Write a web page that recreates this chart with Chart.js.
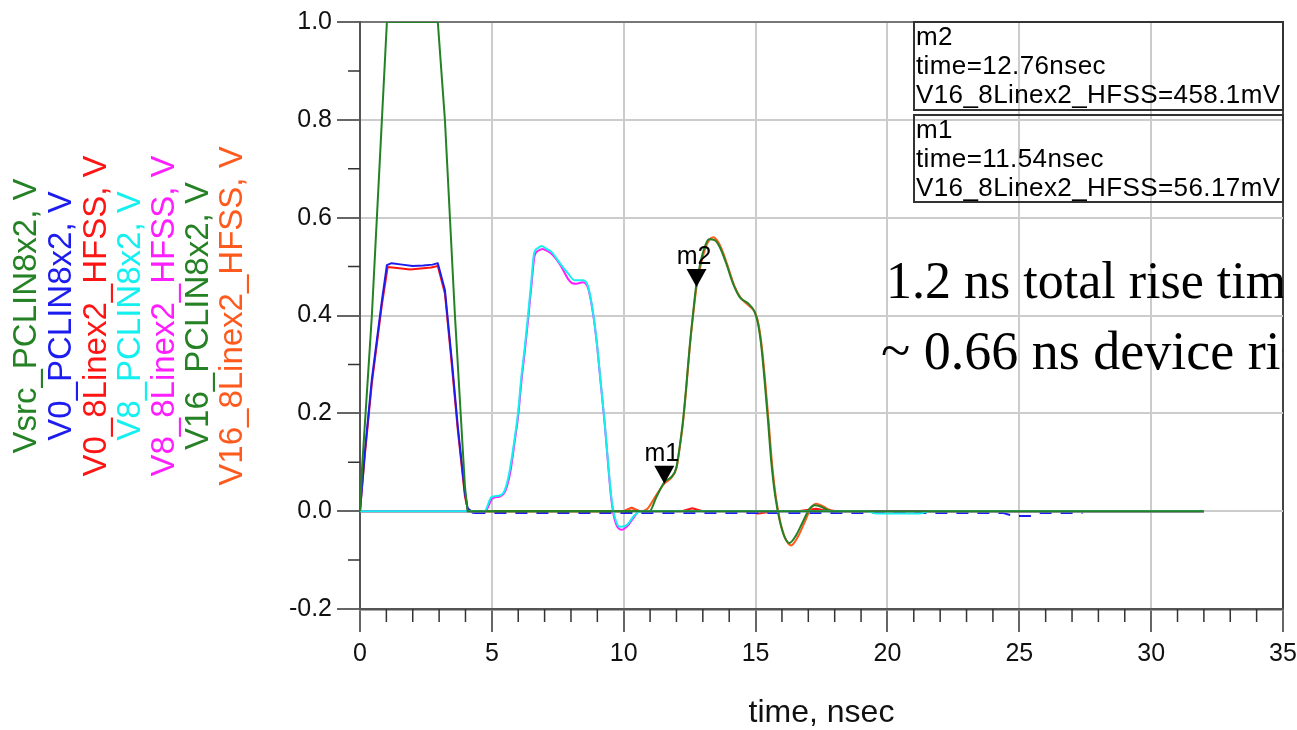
<!DOCTYPE html>
<html>
<head>
<meta charset="utf-8">
<script src="https://cdn.jsdelivr.net/npm/chart.js@4.4.1/dist/chart.umd.min.js"></script>
<style>
  html, body { margin: 0; padding: 0; background: #ffffff; }
  #wrap { width: 1297px; height: 730px; }
</style>
</head>
<body>
<div id="wrap"><canvas id="c" width="1297" height="730"></canvas></div>
<script>
// ---- Transient waveforms (time in ns, voltage in V) ----
const vsrcT = [0, 0.08, 0.45, 0.83, 1.02, 2.95, 3.22, 3.6, 3.98, 4.08, 32];
const vsrcV = [0, 0.09, 0.40, 0.80, 1.0, 1.0, 0.80, 0.40, 0.05, 0, 0];

const v0T = [0, 0.19, 0.45, 0.83, 1.02, 1.2, 1.6, 2.0, 2.4, 2.75, 2.95, 3.22, 3.48, 3.71, 3.98, 4.08, 4.3, 24.4, 24.8, 25.4, 25.8, 27.4];
const v0V = [0, 0.125, 0.27, 0.43, 0.503, 0.507, 0.504, 0.501, 0.502, 0.504, 0.507, 0.452, 0.309, 0.172, 0.037, 0.006, -0.004, -0.004, -0.01, -0.01, -0.004, -0.004];

const v0hT = [0, 0.19, 0.45, 0.83, 1.05, 1.4, 1.9, 2.3, 2.7, 2.95, 3.22, 3.48, 3.71, 3.98, 4.1, 10.0, 10.3, 10.6, 12.2, 12.6, 13.0, 14.6, 15.1, 15.7, 16.6, 17.3, 17.8, 32];
const v0hV = [0, 0.118, 0.262, 0.422, 0.499, 0.497, 0.494, 0.496, 0.498, 0.501, 0.445, 0.300, 0.165, 0.030, 0, 0, 0.007, 0, 0, 0.006, 0, 0, -0.005, 0, 0, 0.005, 0, 0];

const v8T = [0, 4.72, 4.99, 5.3, 5.49, 5.68, 5.87, 5.99, 6.12, 6.25, 6.38, 6.5, 6.6, 6.75, 6.88, 7.05, 7.26, 7.58, 7.89, 8.14, 8.46, 8.65, 8.84, 8.97, 9.12, 9.28, 9.41, 9.53, 9.66, 9.85, 10.1, 10.42, 10.65, 19.2, 19.6, 21.2, 21.6, 32];
const v8V = [0, 0, 0.029, 0.032, 0.043, 0.084, 0.151, 0.2, 0.275, 0.336, 0.405, 0.472, 0.527, 0.538, 0.542, 0.537, 0.530, 0.507, 0.486, 0.472, 0.472, 0.459, 0.405, 0.35, 0.268, 0.18, 0.098, 0.029, -0.012, -0.032, -0.029, -0.008, 0, 0, -0.005, -0.005, 0, 0];

const v8hT = [0, 4.75, 5.02, 5.3, 5.5, 5.7, 5.88, 6.0, 6.13, 6.26, 6.39, 6.51, 6.62, 6.78, 6.92, 7.1, 7.3, 7.6, 7.9, 8.05, 8.2, 8.45, 8.65, 8.84, 8.97, 9.12, 9.28, 9.41, 9.53, 9.66, 9.9, 10.15, 10.35, 10.6, 32];
const v8hV = [0, 0, 0.026, 0.03, 0.04, 0.08, 0.148, 0.196, 0.27, 0.332, 0.4, 0.467, 0.522, 0.533, 0.536, 0.532, 0.524, 0.503, 0.474, 0.466, 0.465, 0.468, 0.456, 0.403, 0.348, 0.266, 0.178, 0.094, 0.024, -0.018, -0.038, -0.03, -0.015, 0, 0];

const v16T = [0, 10.98, 11.24, 11.55, 11.81, 12.0, 12.12, 12.25, 12.37, 12.5, 12.63, 12.75, 12.9, 13.07, 13.23, 13.45, 13.64, 13.89, 14.14, 14.39, 14.71, 14.96, 15.09, 15.22, 15.34, 15.47, 15.59, 15.75, 15.91, 16.1, 16.29, 16.54, 16.79, 17.05, 17.23, 17.49, 17.74, 18.0, 32];
const v16V = [0, 0, 0.029, 0.06, 0.07, 0.09, 0.131, 0.186, 0.254, 0.336, 0.404, 0.462, 0.506, 0.54, 0.556, 0.554, 0.54, 0.506, 0.466, 0.438, 0.425, 0.408, 0.384, 0.336, 0.268, 0.186, 0.104, 0.029, -0.018, -0.053, -0.065, -0.049, -0.022, 0.005, 0.012, 0.009, 0.002, 0, 0];

const v16hT = [0, 10.0, 10.3, 10.6, 10.9, 11.2, 11.54, 11.8, 12.0, 12.12, 12.25, 12.37, 12.5, 12.63, 12.76, 12.92, 13.1, 13.25, 13.4, 13.55, 13.72, 13.95, 14.2, 14.45, 14.75, 15.0, 15.12, 15.25, 15.37, 15.5, 15.62, 15.78, 15.95, 16.15, 16.35, 16.6, 16.85, 17.1, 17.3, 17.55, 17.8, 18.1, 32];
const v16hV = [0, 0, 0.006, 0, 0.005, 0.03, 0.05617, 0.068, 0.088, 0.128, 0.182, 0.25, 0.332, 0.4, 0.4581, 0.503, 0.538, 0.555, 0.56, 0.553, 0.535, 0.5, 0.46, 0.435, 0.42, 0.404, 0.38, 0.33, 0.262, 0.18, 0.1, 0.025, -0.025, -0.058, -0.07, -0.053, -0.024, 0.006, 0.015, 0.01, 0.003, 0, 0];

// Markers placed on V16_8Linex2_HFSS
const markerNames = ['m1', 'm2'];
const markerT = [11.54, 12.76];
const markerV = [0.05617, 0.4581];

// Axis ticks
const xMin = 0, xMax = 35, xStep = 5, xMinorStep = 1;
const yMin = -0.2, yMax = 1.0, yStep = 0.2, yMinorStep = 0.1;

const noteLines = ['1.2 ns total rise tim', '~ 0.66 ns device ris'];

const pts = (T, V) => T.map((t, i) => ({ x: t, y: V[i] }));

const GREEN = '#248224';
const datasets = [
  { label: 'Vsrc_PCLIN8x2', data: pts(vsrcT, vsrcV), borderColor: GREEN, order: 0, tension: 0 },
  { label: 'V0_PCLIN8x2', data: pts(v0T, v0V), borderColor: '#1c1cf0', order: 5, tension: 0,
    segment: { borderDash: c => (c.p0.parsed.x >= 4.3 ? [12, 9] : undefined) } },
  { label: 'V0_8Linex2_HFSS', data: pts(v0hT, v0hV), borderColor: '#ff1414', order: 6, tension: 0 },
  { label: 'V8_PCLIN8x2', data: pts(v8T, v8V), borderColor: '#14f0f0', order: 1, cubicInterpolationMode: 'monotone' },
  { label: 'V8_8Linex2_HFSS', data: pts(v8hT, v8hV), borderColor: '#ff1eff', order: 2, cubicInterpolationMode: 'monotone' },
  { label: 'V16_PCLIN8x2', data: pts(v16T, v16V), borderColor: GREEN, order: 3, cubicInterpolationMode: 'monotone' },
  { label: 'V16_8Linex2_HFSS', data: pts(v16hT, v16hV), borderColor: '#ff5a1e', order: 4, cubicInterpolationMode: 'monotone' }
];
datasets.forEach(d => { d.borderWidth = 2; d.pointRadius = 0; d.fill = false; });

const SANS = '"Liberation Sans", Arial, sans-serif';

// Minor tick marks on both axes
const minorTicks = {
  id: 'minorTicks',
  afterDraw(chart) {
    const { ctx, scales: { x, y } } = chart;
    ctx.save();
    ctx.strokeStyle = '#333';
    ctx.lineWidth = 1.5;
    ctx.beginPath();
    for (let t = xMin + xMinorStep; t < xMax; t += xMinorStep) {
      if (Math.abs(t / xStep - Math.round(t / xStep)) < 1e-6) continue;
      const px = x.getPixelForValue(t);
      ctx.moveTo(px, y.bottom);
      ctx.lineTo(px, y.bottom + 13);
    }
    for (let v = yMin + yMinorStep; v < yMax - 1e-6; v += yMinorStep) {
      if (Math.abs(v / yStep - Math.round(v / yStep)) < 1e-6) continue;
      const py = y.getPixelForValue(v);
      ctx.moveTo(x.left, py);
      ctx.lineTo(x.left - 12, py);
    }
    ctx.stroke();
    ctx.restore();
  }
};

// Rotated trace names on the left
const sideLegend = {
  id: 'sideLegend',
  afterDraw(chart) {
    const { ctx } = chart;
    const cols = [27, 62, 97, 131, 165, 199, 233];
    ctx.save();
    ctx.font = '33px ' + SANS;
    ctx.textAlign = 'center';
    ctx.textBaseline = 'middle';
    chart.data.datasets.forEach((d, i) => {
      ctx.save();
      ctx.translate(cols[i], 316);
      ctx.rotate(-Math.PI / 2);
      ctx.fillStyle = d.borderColor;
      ctx.fillText(d.label + ', V', 0, 0);
      ctx.restore();
    });
    ctx.restore();
  }
};

// Marker triangles, labels and readout boxes
const markers = {
  id: 'markers',
  afterDatasetsDraw(chart) {
    const { ctx, scales: { x, y }, chartArea } = chart;
    const trace = chart.data.datasets[6].label;
    ctx.save();
    ctx.fillStyle = '#000';
    ctx.font = '25px ' + SANS;
    ctx.textAlign = 'center';
    ctx.textBaseline = 'alphabetic';
    markerNames.forEach((name, i) => {
      const px = x.getPixelForValue(markerT[i]);
      const py = y.getPixelForValue(markerV[i]);
      ctx.beginPath();
      ctx.moveTo(px, py);
      ctx.lineTo(px - 10, py - 18);
      ctx.lineTo(px + 10, py - 18);
      ctx.closePath();
      ctx.fill();
      ctx.fillText(name, px - 2.5, py - 23);
    });

    // readout boxes, newest marker on top
    const right = chartArea.right;
    const left = right - 369;
    const boxH = [88, 87];
    const tops = [chartArea.top, chartArea.top + 93];
    ctx.textAlign = 'left';
    ctx.font = '26px ' + SANS;
    if ('letterSpacing' in ctx) ctx.letterSpacing = '0.4px';
    const order = markerNames.map((_, i) => i).reverse();
    order.forEach((mi, k) => {
      const top = tops[k];
      ctx.strokeStyle = '#333';
      ctx.lineWidth = 2;
      ctx.strokeRect(left, top, right - left, boxH[k]);
      const lines = [
        markerNames[mi],
        'time=' + markerT[mi].toFixed(2) + 'nsec',
        trace + '=' + (markerV[mi] * 1000).toPrecision(4) + 'mV'
      ];
      lines.forEach((s, j) => ctx.fillText(s, left + 2, top + 23 + j * 29));
    });
    ctx.restore();
  }
};

// Rise-time note, clipped to the plot frame
const note = {
  id: 'note',
  afterDatasetsDraw(chart) {
    const { ctx, chartArea } = chart;
    ctx.save();
    ctx.beginPath();
    ctx.rect(chartArea.left, chartArea.top, chartArea.right - chartArea.left, chartArea.bottom - chartArea.top);
    ctx.clip();
    ctx.fillStyle = '#000';
    ctx.textAlign = 'left';
    ctx.textBaseline = 'alphabetic';
    ctx.font = '52px "Liberation Serif", "Times New Roman", serif';
    ctx.fillText(noteLines[0], 886, 298);
    ctx.font = '54px "Liberation Serif", "Times New Roman", serif';
    ctx.fillText(noteLines[1], 881, 369);
    ctx.restore();
  }
};

const near = (a, b) => Math.abs(a - b) < 1e-6;

new Chart(document.getElementById('c'), {
  type: 'line',
  data: { datasets },
  options: {
    responsive: false,
    animation: false,
    devicePixelRatio: 1,
    layout: { padding: { left: 0, right: 14, top: 22, bottom: 0 } },
    plugins: { legend: { display: false }, tooltip: { enabled: false } },
    elements: { line: { borderCapStyle: 'butt', borderJoinStyle: 'round' } },
    scales: {
      x: {
        type: 'linear',
        min: xMin, max: xMax,
        afterFit: s => { s.height = 121; s.paddingLeft = 0; s.paddingRight = 0; },
        ticks: { stepSize: xStep, padding: 7, color: '#111', font: { family: SANS, size: 25 } },
        grid: {
          color: c => near(c.tick.value, xMax) ? '#444' : (near(c.tick.value, xMin) ? 'rgba(0,0,0,0)' : '#cccccc'),
          lineWidth: 2,
          tickLength: 23,
          tickColor: '#333',
          tickWidth: 1.5
        },
        border: { display: true, color: '#555', width: 2.5 },
        title: { display: true, text: 'time, nsec', color: '#111', padding: 0, font: { family: SANS, size: 32, lineHeight: 1.05 } }
      },
      y: {
        type: 'linear',
        min: yMin, max: yMax,
        afterFit: s => { s.width = 360; s.paddingTop = 0; s.paddingBottom = 0; },
        ticks: {
          stepSize: yStep, padding: 5, color: '#111', font: { family: SANS, size: 25 },
          callback: v => (Math.abs(v) < 1e-9 ? 0 : v).toFixed(1)
        },
        grid: {
          color: c => near(c.tick.value, yMax) ? '#777' : (near(c.tick.value, yMin) ? 'rgba(0,0,0,0)' : '#cccccc'),
          lineWidth: 2,
          tickLength: 23,
          tickColor: '#333',
          tickWidth: 1.5
        },
        border: { display: true, color: '#555', width: 2 }
      }
    }
  },
  plugins: [minorTicks, sideLegend, markers, note]
});
</script>
</body>
</html>
